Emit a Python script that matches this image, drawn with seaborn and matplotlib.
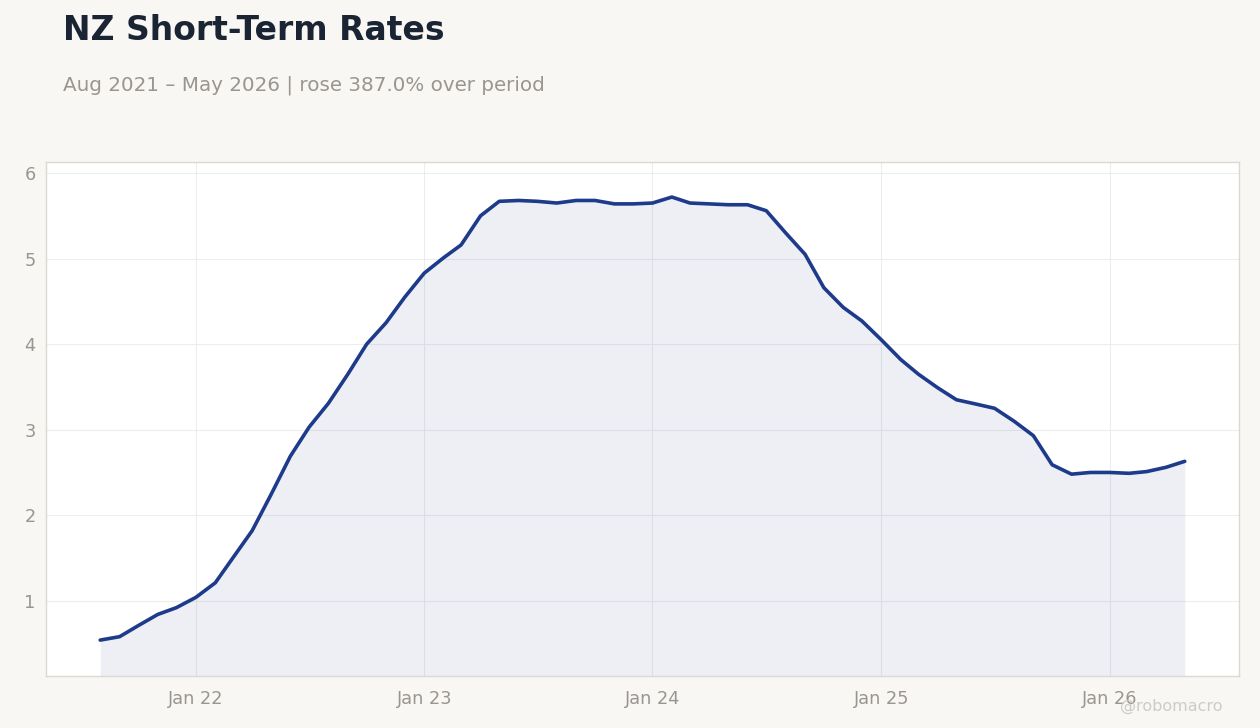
import pandas as pd
import numpy as np
import seaborn as sns
from matplotlib import pyplot as plt
import matplotlib.dates as mdates

# monthly NZ short-term rates, Aug 2021 - May 2026
months = pd.date_range('2021-08-01', '2026-05-01', freq='MS')
rates = [0.54, 0.58, 0.71, 0.84, 0.92, 1.04, 1.21, 1.50, 1.82, 2.24,
         2.69, 3.03, 3.31, 3.65, 4.00, 4.25, 4.55, 4.83, 5.01, 5.16,
         5.50, 5.67, 5.68, 5.67, 5.65, 5.68, 5.68, 5.64, 5.64, 5.65,
         5.72, 5.65, 5.64, 5.63, 5.63, 5.56, 5.30, 5.05, 4.66, 4.43,
         4.27, 4.05, 3.82, 3.65, 3.49, 3.35, 3.30, 3.25, 3.10, 2.93,
         2.59, 2.48, 2.50, 2.50, 2.49, 2.51, 2.56, 2.63]
xtick_dates = ['2022-01-01', '2023-01-01', '2024-01-01', '2025-01-01', '2026-01-01']
yticks = [1, 2, 3, 4, 5, 6]

df = pd.DataFrame({'date': months, 'rate': rates})

sns.set_theme(style='whitegrid')
plt.rcParams['font.family'] = ['DejaVu Sans']

bg = '#f8f7f4'
line_col = '#1e3a8a'
text_grey = '#9a9590'

fig = plt.figure(figsize=[12.6, 7.28], dpi=100, facecolor=bg)
ax = fig.add_axes([0.0365, 0.0714, 0.9468, 0.7061])
ax.set_facecolor('white')

sns.lineplot(data=df, x='date', y='rate', color=line_col, linewidth=2.6, ax=ax)
ax.fill_between(df['date'], df['rate'], 0, color=line_col, alpha=0.08, linewidth=0)

ax.set_ylim(0.12, 6.13)
ax.set_yticks(yticks)
ax.set_xticks(pd.to_datetime(xtick_dates))
ax.xaxis.set_major_formatter(mdates.DateFormatter('Jan %y'))
ax.set_xlabel('')
ax.set_ylabel('')

ax.grid(True, color='#e6e6e6', linewidth=0.8, alpha=0.7)
for s in ax.spines.values():
    s.set_color('#ddd8d0')
    s.set_linewidth(1)
ax.tick_params(axis='both', colors='#b0aba6', labelcolor=text_grey,
               labelsize=12.8, length=4, width=1, direction='out')
ax.tick_params(axis='x', pad=6)

fig.text(0.05, 0.945, 'NZ Short-Term Rates', fontsize=23.8, fontweight='bold',
         color='#1b2433', ha='left', va='baseline')
fig.text(0.05, 0.876, 'Aug 2021 \u2013 May 2026 | rose 387.0% over period',
         fontsize=14.3, color=text_grey, ha='left', va='baseline')
fig.text(0.97, 0.024, '@robomacro', fontsize=11.5, color='#cfcbc6',
         ha='right', va='baseline')

fig.savefig('out.png', dpi=100, facecolor=bg)
